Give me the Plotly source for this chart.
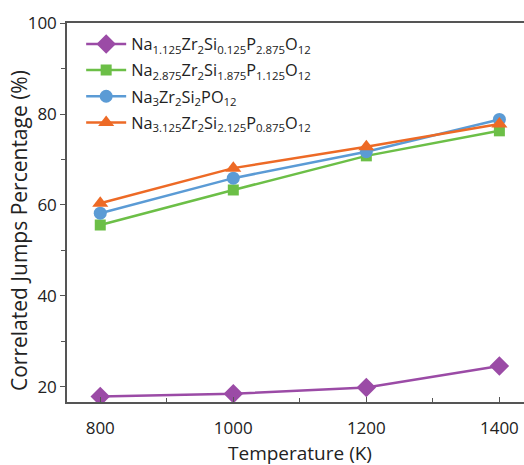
import plotly.graph_objects as go

temperature = [800, 1000, 1200, 1400]
na1125 = [17.9, 18.5, 19.9, 24.6]
na2875 = [55.6, 63.3, 70.8, 76.3]
na3 = [58.2, 65.9, 71.7, 78.8]
na3125 = [60.4, 68.1, 72.8, 77.8]

names = [
    "Na<sub>1.125</sub>Zr<sub>2</sub>Si<sub>0.125</sub>P<sub>2.875</sub>O<sub>12</sub>",
    "Na<sub>2.875</sub>Zr<sub>2</sub>Si<sub>1.875</sub>P<sub>1.125</sub>O<sub>12</sub>",
    "Na<sub>3</sub>Zr<sub>2</sub>Si<sub>2</sub>PO<sub>12</sub>",
    "Na<sub>3.125</sub>Zr<sub>2</sub>Si<sub>2.125</sub>P<sub>0.875</sub>O<sub>12</sub>",
]
x_title = "Temperature (K)"
y_title = "Correlated Jumps Percentage (%)"
series = [na1125, na2875, na3, na3125]
colors = ["#9b4ba6", "#6cbf47", "#5b9bd5", "#ed6a26"]
symbols = ["diamond", "square", "circle", "triangle-up"]
sizes = [15, 11, 13, 14]

fig = go.Figure()
for i, (n, s, c, sym, sz) in enumerate(zip(names, series, colors, symbols, sizes)):
    fig.add_trace(go.Scatter(
        x=temperature, y=s, name=n, mode="lines+markers",
        legendgroup=f"g{i}",
        line=dict(color=c, width=2.5),
        marker=dict(symbol=sym, size=sz, color=c),
    ))

font = "'Open Sans', sans-serif"
L, T, B, W, H = 67, 23, 63, 524, 465
plot_w = W - L
plot_h = H - T - B
fig.update_layout(
    width=W, height=H,
    margin=dict(l=L, r=0, t=T, b=B),
    paper_bgcolor="white", plot_bgcolor="white",
    font=dict(family=font, size=17, color="#222"),
    showlegend=True,
    legend=dict(x=0.031, y=0.99, xanchor="left", yanchor="top",
                bgcolor="rgba(0,0,0,0)", font=dict(size=16.3, color="#222"),
                tracegroupgap=2, itemwidth=40),
    xaxis=dict(
        range=[750, 1437], tickvals=[800, 1000, 1200, 1400],
        showline=True, linecolor="#555", linewidth=1.5, mirror=True,
        ticks="inside", ticklen=5, tickcolor="#555",
        minor=dict(tickvals=[900, 1100, 1300], ticks="inside", ticklen=4, tickcolor="#555"),
        showgrid=False, zeroline=False, automargin=False,
        ticklabelstandoff=10,
        tickfont=dict(size=17),
    ),
    yaxis=dict(
        range=[16.7, 100], tickvals=[20, 40, 60, 80, 100],
        showline=True, linecolor="#555", linewidth=1.5, mirror=False,
        ticks="outside", ticklen=5, tickcolor="#555",
        minor=dict(tickvals=[30, 50, 70, 90], ticks="outside", ticklen=4, tickcolor="#555"),
        showgrid=False, zeroline=False, automargin=False,
        tickfont=dict(size=17),
    ),
    annotations=[
        dict(text=x_title, xref="paper", yref="paper",
             x=(300 - L) / plot_w, y=-(453 - (T + plot_h)) / plot_h,
             xanchor="center", yanchor="middle", showarrow=False,
             font=dict(size=19)),
        dict(text=y_title, xref="paper", yref="paper", textangle=-90,
             x=-(L - 19) / plot_w, y=(H - B - 231) / plot_h,
             xanchor="center", yanchor="middle", showarrow=False,
             font=dict(size=21)),
    ],
)
fig.write_html("out.html", config={"displayModeBar": False},
               post_script="document.body.style.margin='0';")
